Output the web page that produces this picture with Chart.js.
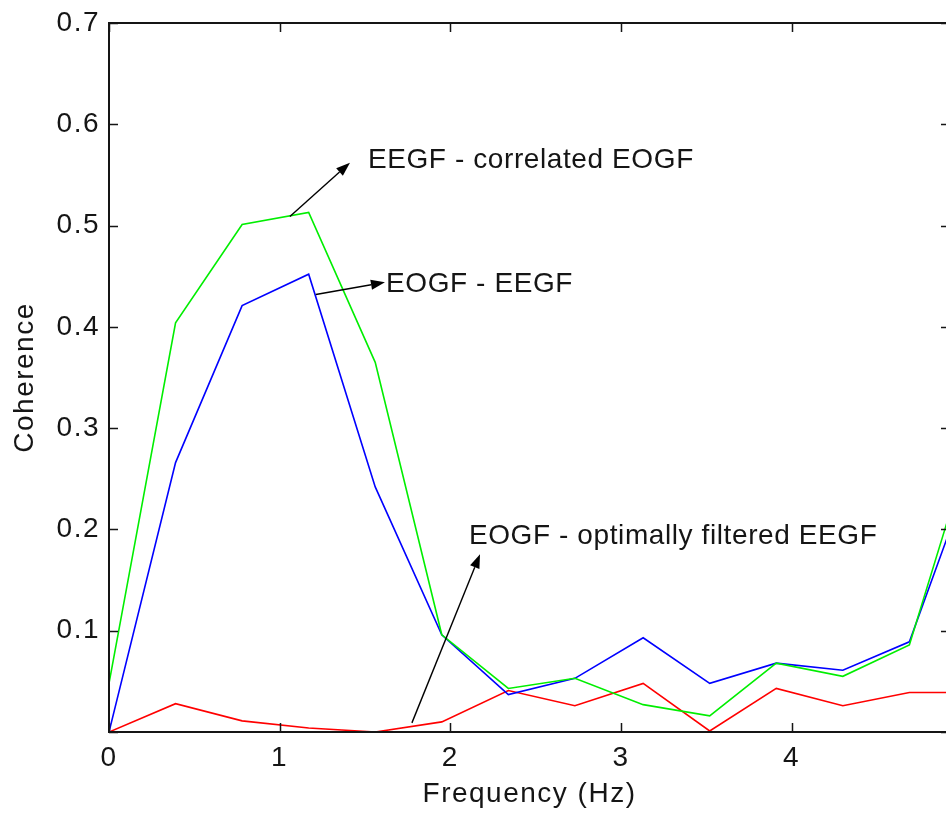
<!DOCTYPE html>
<html>
<head>
<meta charset="utf-8">
<script src="https://cdn.jsdelivr.net/npm/chart.js@4.4.1/dist/chart.umd.min.js"></script>
<style>
  html, body { margin: 0; padding: 0; background: #fff; overflow: hidden; }
  #wrap { width: 960px; height: 815px; }
</style>
</head>
<body>
<div id="wrap"><canvas id="chart"></canvas></div>
<script>
// frequency bins (Hz)
const freq = [0, 0.39, 0.78, 1.17, 1.56, 1.95, 2.34, 2.73, 3.13, 3.52, 3.91, 4.30, 4.69, 5.08];

// coherence per series
const eegfCorrelatedEogf = [0.048, 0.404, 0.501, 0.513, 0.365, 0.096, 0.043, 0.053, 0.027, 0.016, 0.068, 0.055, 0.086, 0.30];
const eogfEegf = [0.0, 0.266, 0.421, 0.452, 0.242, 0.096, 0.037, 0.053, 0.093, 0.048, 0.068, 0.061, 0.089, 0.27];
const eogfFilteredEegf = [0.0, 0.028, 0.011, 0.004, 0.0, 0.010, 0.041, 0.026, 0.048, 0.001, 0.043, 0.026, 0.039, 0.039];

const xTickLabels = ['0', '1', '2', '3', '4'];
const yTickLabels = ['', '0.1', '0.2', '0.3', '0.4', '0.5', '0.6', '0.7'];

// text + arrow annotations, in data units
const notes = [
  { text: 'EEGF - correlated EOGF', tx: 1.517, ty: 0.557, from: [1.06, 0.509], to: [1.412, 0.562] },
  { text: 'EOGF - EEGF', tx: 1.623, ty: 0.434, from: [1.212, 0.432], to: [1.617, 0.444] },
  { text: 'EOGF - optimally filtered EEGF', tx: 2.109, ty: 0.186, from: [1.775, 0.009], to: [2.174, 0.1755] },
];

const FONT = "'Liberation Sans', Arial, sans-serif";
const INK = '#151515';
const TICK = 9;

const toPoints = (ys) => freq.map((f, i) => ({ x: f, y: ys[i] }));

const matlabAxes = {
  id: 'matlabAxes',
  beforeUpdate(chart) {
    chart.ctx.letterSpacing = '1.5px';
  },
  beforeDraw(chart) {
    chart.ctx.letterSpacing = '1.5px';
  },
  afterDatasetsDraw(chart) {
    const { ctx, chartArea: a, scales: { x, y } } = chart;
    ctx.save();
    ctx.strokeStyle = INK;
    ctx.lineWidth = 2;
    ctx.strokeRect(a.left, a.top, a.right - a.left, a.bottom - a.top);
    ctx.beginPath();
    x.ticks.forEach((t) => {
      const px = Math.round(x.getPixelForValue(t.value)) + 0.5;
      ctx.moveTo(px, a.bottom);
      ctx.lineTo(px, a.bottom - TICK);
      ctx.moveTo(px, a.top);
      ctx.lineTo(px, a.top + TICK);
    });
    y.ticks.forEach((t) => {
      const py = Math.round(y.getPixelForValue(t.value)) + 0.5;
      ctx.moveTo(a.left, py);
      ctx.lineTo(a.left + TICK, py);
      ctx.moveTo(a.right, py);
      ctx.lineTo(a.right - TICK, py);
    });
    ctx.lineWidth = 1.5;
    ctx.stroke();
    ctx.restore();
  },
};

const arrowNotes = {
  id: 'arrowNotes',
  afterDraw(chart) {
    const { ctx, scales: { x, y } } = chart;
    ctx.save();
    ctx.strokeStyle = '#000';
    ctx.lineWidth = 1.4;
    notes.forEach((n) => {
      const x0 = x.getPixelForValue(n.from[0]);
      const y0 = y.getPixelForValue(n.from[1]);
      const x1 = x.getPixelForValue(n.to[0]);
      const y1 = y.getPixelForValue(n.to[1]);
      const ang = Math.atan2(y1 - y0, x1 - x0);
      const len = 14, half = 5;
      const bx = x1 - len * Math.cos(ang);
      const by = y1 - len * Math.sin(ang);
      ctx.beginPath();
      ctx.moveTo(x0, y0);
      ctx.lineTo(bx, by);
      ctx.stroke();
      ctx.fillStyle = '#000';
      ctx.beginPath();
      ctx.moveTo(x1, y1);
      ctx.lineTo(bx + half * Math.sin(ang), by - half * Math.cos(ang));
      ctx.lineTo(bx - half * Math.sin(ang), by + half * Math.cos(ang));
      ctx.closePath();
      ctx.fill();

      ctx.font = `28px ${FONT}`;
      ctx.letterSpacing = '0.6px';
      ctx.fillStyle = INK;
      ctx.textAlign = 'left';
      ctx.textBaseline = 'alphabetic';
      ctx.fillText(n.text, x.getPixelForValue(n.tx), y.getPixelForValue(n.ty));
    });
    ctx.restore();
  },
};

const series = (data, color) => ({
  data: toPoints(data),
  borderColor: color,
  borderWidth: 1.6,
  pointRadius: 0,
  tension: 0,
  fill: false,
});

new Chart(document.getElementById('chart'), {
  type: 'line',
  data: {
    datasets: [
      series(eegfCorrelatedEogf, '#00ee00'),
      series(eogfEegf, '#0000ff'),
      series(eogfFilteredEegf, '#ff0000'),
    ],
  },
  plugins: [matlabAxes, arrowNotes],
  options: {
    responsive: true,
    maintainAspectRatio: false,
    animation: false,
    parsing: false,
    layout: { padding: { left: 0, top: 22, right: 10, bottom: 0 } },
    plugins: {
      legend: { display: false },
      tooltip: { enabled: false },
    },
    scales: {
      x: {
        type: 'linear',
        min: 0,
        max: 4.928,
        grid: { display: false, drawTicks: false },
        border: { display: false },
        ticks: {
          stepSize: 1,
          includeBounds: false,
          padding: 9,
          maxRotation: 0,
          color: INK,
          font: { family: FONT, size: 28 },
          callback: (v) => xTickLabels[Math.round(v)] ?? '',
        },
        title: {
          display: true,
          text: 'Frequency (Hz)',
          color: INK,
          font: { family: FONT, size: 28 },
          padding: { top: 0, bottom: 4 },
        },
        afterFit(scale) { scale.height = 83; },
      },
      y: {
        type: 'linear',
        min: 0,
        max: 0.7,
        grid: { display: false, drawTicks: false },
        border: { display: false },
        ticks: {
          stepSize: 0.1,
          padding: 9,
          color: INK,
          font: { family: FONT, size: 28, lineHeight: 1 },
          callback: (v) => yTickLabels[Math.round(v * 10)] ?? '',
        },
        title: {
          display: true,
          text: 'Coherence',
          color: INK,
          font: { family: FONT, size: 28 },
          padding: { top: 8, bottom: 0 },
        },
        afterFit(scale) { scale.width = 109; },
      },
    },
  },
});
</script>
</body>
</html>
